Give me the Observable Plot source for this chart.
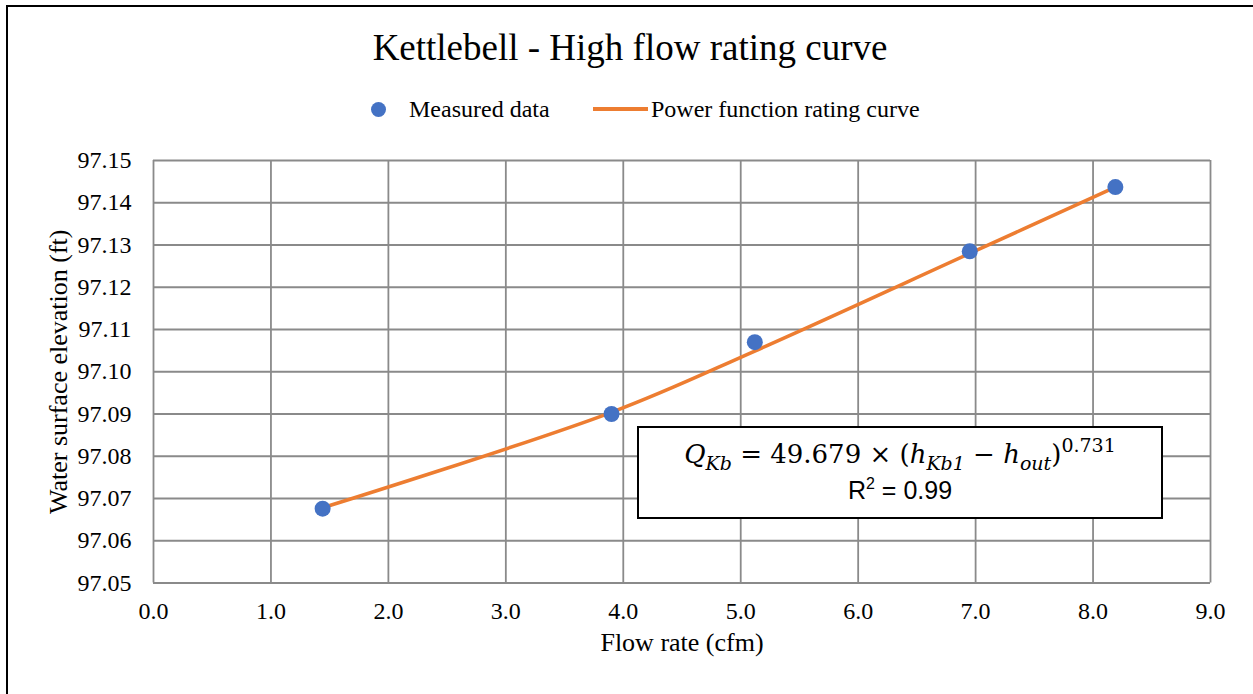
<!DOCTYPE html>
<html><head><meta charset="utf-8">
<script src="https://cdn.jsdelivr.net/npm/d3@7"></script>
<script src="https://cdn.jsdelivr.net/npm/@observablehq/plot@0.6"></script>
<style>
body{margin:0;background:#fff;}
#wrap{position:relative;width:1253px;height:694px;overflow:hidden;font-family:"Liberation Serif","Times New Roman",serif;color:#000;}
#border{position:absolute;left:6px;top:5px;width:1270px;height:720px;border:2px solid #000;box-sizing:border-box;}
#title{position:absolute;left:7px;width:1246px;top:29px;text-align:center;font-size:37px;line-height:37px;white-space:nowrap;}
.lg{position:absolute;font-size:24px;line-height:24px;top:97px;white-space:nowrap;}
#chart{position:absolute;left:0;top:0;}
</style>
</head><body>
<div id="wrap">
  <div id="border"></div>
  <div id="title"></div>
  <div id="legend"></div>
  <div id="chart"></div>
</div>
<script>
// ---- data ----
const titleText = "Kettlebell - High flow rating curve";
const xLabel = "Flow rate (cfm)";
const yLabel = "Water surface elevation (ft)";
const seriesNames = ["Measured data", "Power function rating curve"];
const measuredFlow = [1.44, 3.90, 5.12, 6.95, 8.19];
const measuredElev = [97.0676, 97.0900, 97.1070, 97.1285, 97.1437];
const curveFlow = [1.44, 3.90, 5.12, 6.95, 8.19];
const curveElev = [97.0678, 97.0904, 97.1049, 97.1280, 97.1437];
const xTicks = [0, 1, 2, 3, 4, 5, 6, 7, 8, 9];
const yTicks = [97.05, 97.06, 97.07, 97.08, 97.09, 97.10, 97.11, 97.12, 97.13, 97.14, 97.15];
const r2Text = "0.99";

const blue = "#4472C4", orange = "#ED7D31", gridColor = "#8a8a8a";
const serif = "Liberation Serif";

const measured = measuredFlow.map((q, i) => ({q, h: measuredElev[i]}));
const curve = curveFlow.map((q, i) => ({q, h: curveElev[i]}));

document.getElementById("title").textContent = titleText;

const legend = document.getElementById("legend");
legend.innerHTML = `
  <div style="position:absolute;left:371px;top:102px;width:15px;height:15px;border-radius:50%;background:${blue}"></div>
  <div class="lg" style="left:409px">${seriesNames[0]}</div>
  <div style="position:absolute;left:593px;top:107px;width:55px;height:3.5px;background:${orange}"></div>
  <div class="lg" style="left:651px">${seriesNames[1]}</div>`;

const chart = Plot.plot({
  width: 1253,
  height: 694,
  marginLeft: 153,
  marginRight: 43,
  marginTop: 160,
  marginBottom: 111.5,
  style: {fontFamily: serif, fontSize: "24px", color: "#000", background: "transparent", overflow: "visible"},
  x: {domain: [0, 9]},
  y: {domain: [97.05, 97.15]},
  marks: [
    Plot.gridX(xTicks, {stroke: gridColor, strokeOpacity: 1, strokeWidth: 1.8}),
    Plot.gridY(yTicks, {stroke: gridColor, strokeOpacity: 1, strokeWidth: 1.8}),
    Plot.axisX(xTicks, {tickFormat: d3.format(".1f"), tickSize: 0, tickPadding: 19, fontSize: 24, fontFamily: serif, label: null}),
    Plot.axisY(yTicks, {tickFormat: d3.format(".2f"), tickSize: 0, tickPadding: 22, fontSize: 24, fontFamily: serif, label: null}),
    Plot.line(curve, {x: "q", y: "h", curve: "catmull-rom", stroke: orange, strokeWidth: 3.5}),
    Plot.dot(measured, {x: "q", y: "h", r: 8, fill: blue, stroke: "none"}),
    Plot.text([xLabel], {frameAnchor: "bottom", dy: 67.5, fontSize: 26, fontFamily: serif, fill: "#000"}),
    Plot.text([yLabel], {frameAnchor: "left", dx: -95, rotate: -90, textAnchor: "middle", fontSize: 26, fontFamily: serif, fill: "#000"})
  ]
});
document.getElementById("chart").appendChild(chart);

const svg = d3.select(chart);
svg.selectAll("text").attr("font-family", serif);

// equation annotation box
const g = svg.append("g");
g.append("rect").attr("x", 638).attr("y", 427).attr("width", 524).attr("height", 91)
  .attr("fill", "#fff").attr("stroke", "#000").attr("stroke-width", 2);
const eq = g.append("text").attr("x", 900).attr("y", 463).attr("text-anchor", "middle")
  .attr("font-family", "DejaVu Serif").attr("font-size", 26).attr("fill", "#000");
const parts = [
  ["Q", "i", 0], ["Kb", "i", 1], [" = 49.679 × (", "n", -1], ["h", "i", 0], ["Kb1", "i", 1],
  [" − ", "n", -1], ["h", "i", 0], ["out", "i", 1], [")", "n", -1], ["0.731", "n", 2]
];
let cur = 0;
parts.forEach(([t, st, lvl]) => {
  const target = lvl === -1 ? 0 : lvl;
  const off = {0: 0, 1: 7, 2: -11};
  const dy = off[target] - off[cur];
  cur = target;
  const ts = eq.append("tspan").text(t).attr("dy", dy);
  if (st === "i") ts.attr("font-style", "italic");
  if (target > 0) ts.attr("font-size", 19);
});
g.append("text").attr("x", 900).attr("y", 499).attr("text-anchor", "middle")
  .attr("font-family", "Liberation Sans").attr("font-size", 25).attr("fill", "#000")
  .call(t => { t.append("tspan").text("R"); t.append("tspan").text("2").attr("dy", -10).attr("font-size", 16); t.append("tspan").text(" = " + r2Text).attr("dy", 10); });
</script>
</body></html>
